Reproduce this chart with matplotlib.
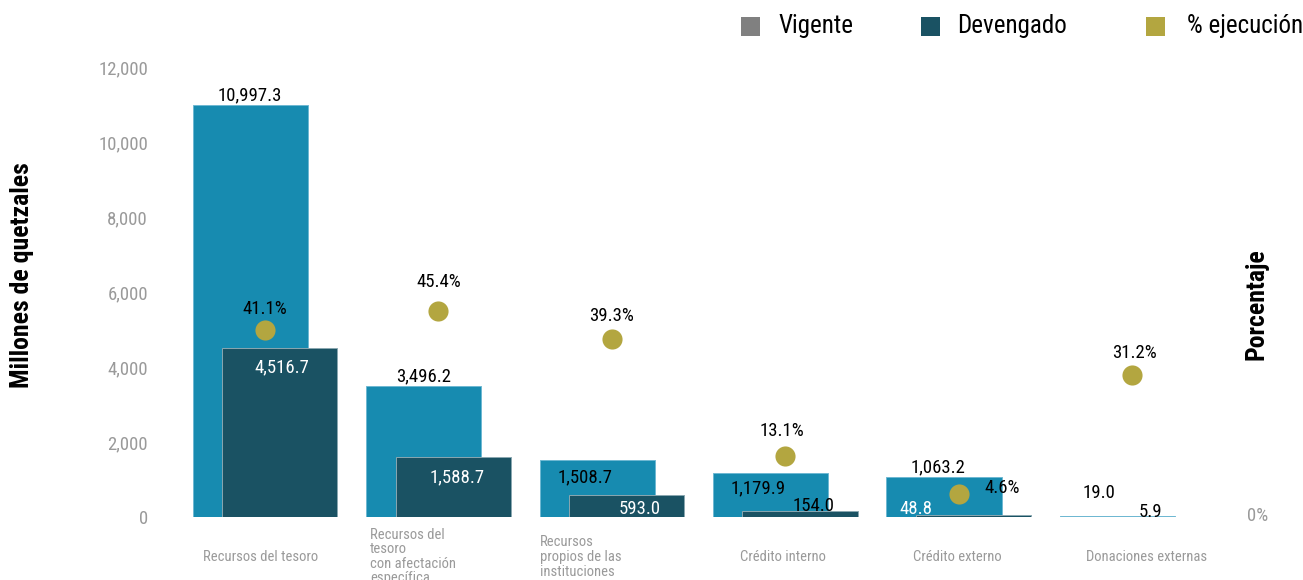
import matplotlib
matplotlib.use("Agg")
import matplotlib.pyplot as plt
import matplotlib.font_manager as fm
from matplotlib.patches import Rectangle
from matplotlib.transforms import blended_transform_factory
import numpy as np

# ---------------- data ----------------
categories = ['Recursos del tesoro',
              'Recursos del\ntesoro\ncon afectación\nespecífica',
              'Recursos\npropios de las\ninstituciones',
              'Crédito interno',
              'Crédito externo',
              'Donaciones externas']
vigente = [10997.3, 3496.2, 1508.7, 1179.9, 1063.2, 19.0]
devengado = [4516.7, 1588.7, 593.0, 154.0, 48.8, 5.9]
ejecucion = [41.1, 45.4, 39.3, 13.1, 4.6, 31.2]
legend_labels = ['Vigente', 'Devengado', '% ejecución']
y_ticks = [0, 2000, 4000, 6000, 8000, 10000, 12000]

# ---------------- fonts ----------------
names = {f.name for f in fm.fontManager.ttflist}
fam = 'DejaVu Sans'
for cand in ['Roboto Condensed', 'Liberation Sans Narrow', 'Open Sans Condensed', 'DejaVu Sans Condensed', 'Roboto']:
    if cand in names:
        fam = cand
        break
plt.rcParams['font.family'] = [fam, 'DejaVu Sans']

# ---------------- style ----------------
C_VIG = '#178bb0'
C_DEV = '#1a5263'
C_PCT = '#b3a640'
C_LEG_VIG = '#808080'
GRAY = '#9a9a9a'

W, H = 1303, 580
fig = plt.figure(figsize=(W / 100, H / 100), dpi=100)

def fx(px):
    return px / W

def fy(py):
    return 1 - py / H

ax_l, ax_r, ax_t, ax_b = 160, 1215, 67, 517
ax = fig.add_axes([fx(ax_l), fy(ax_b), (ax_r - ax_l) / W, (ax_b - ax_t) / H])
ax2 = ax.twinx()

x = np.arange(len(categories))
off = 0.085
bw = 0.665

ax.bar(x - off, vigente, width=bw, color=C_VIG, edgecolor='#6fb8d2', linewidth=0.7, zorder=2)
ax.bar(x + off, devengado, width=bw, color=C_DEV, edgecolor='#8aa7b1', linewidth=0.7, zorder=3)

ax.set_xlim(-0.605, 5.476)
ax.set_ylim(0, 12000)
ax2.set_ylim(-0.6, 100)

ax2.scatter(x, ejecucion, s=210, color=C_PCT, zorder=5, linewidths=0)

for a in (ax, ax2):
    for s in a.spines.values():
        s.set_visible(False)

ax.set_yticks(y_ticks)
ax.set_yticklabels([f'{v:,}' for v in y_ticks], color=GRAY, fontsize=13.5)
ax.tick_params(axis='y', length=0, pad=8.6)
ax.set_xticks([])

ax2.set_yticks([0])
ax2.set_yticklabels(['0%'], color=GRAY, fontsize=13.5)
ax2.tick_params(axis='y', length=0, pad=23)

# value labels (pixel offsets from bar center / bar top)
vig_off = [(0, 9), (0, 10), (-12, -17), (-13, -16), (-6, 10), (-19, 23)]
dev_off = [(2, -20), (4, -20), (13, -14), (13, 5), (-58, 6), (3, 5)]
dev_col = ['white', 'white', 'white', 'black', 'white', 'black']
pct_off = [(0, 21), (0, 29), (0, 23), (-3, 25), (43, 6), (2, 22)]

for i in range(len(categories)):
    ax.annotate(f'{vigente[i]:,.1f}', (x[i] - off, vigente[i]), xytext=vig_off[i],
                textcoords='offset pixels', ha='center', va='center',
                fontsize=13.5, color='black', zorder=6)
    ax.annotate(f'{devengado[i]:,.1f}', (x[i] + off, devengado[i]), xytext=dev_off[i],
                textcoords='offset pixels', ha='center', va='center',
                fontsize=13.5, color=dev_col[i], zorder=6)
    ax2.annotate(f'{ejecucion[i]:.1f}%', (x[i], ejecucion[i]), xytext=pct_off[i],
                 textcoords='offset pixels', ha='center', va='center',
                 fontsize=13.5, color='black', zorder=6)

# category labels
trans = blended_transform_factory(ax.transData, ax.transAxes)
cat_pos = [(-0.023, 'center'), (-0.395, 'left'), (-0.415, 'left'),
           (-0.014, 'center'), (-0.01, 'center'), (0.08, 'center')]
cat_y = [-0.089, -0.088, -0.089, -0.089, -0.089, -0.089]
for i, lab in enumerate(categories):
    dx, ha = cat_pos[i]
    ax.text(x[i] + dx, cat_y[i], lab, transform=trans, ha=ha, va='center',
            multialignment='left', fontsize=10.5, color=GRAY, linespacing=1.05,
            clip_on=False)

# axis titles
fig.text(fx(22), fy(275), 'Millones de quetzales', rotation=90, ha='center', va='center',
         fontsize=18.5, fontweight='bold', color='black')
fig.text(fx(1256), fy(304), 'Porcentaje', rotation=90, ha='center', va='center',
         fontsize=18.5, fontweight='bold', color='black')

# legend
leg_sq = [741, 921, 1146]
leg_tx = [778, 957, 1187]
leg_col = [C_LEG_VIG, C_DEV, C_PCT]
for sx, tx, c, lab in zip(leg_sq, leg_tx, leg_col, legend_labels):
    fig.add_artist(Rectangle((fx(sx), fy(36)), 19 / W, 19 / H, transform=fig.transFigure,
                             facecolor=c, edgecolor='none'))
    fig.text(fx(tx), fy(26), lab, ha='left', va='center', fontsize=18, color='black')

fig.savefig('out.png', dpi=100)
